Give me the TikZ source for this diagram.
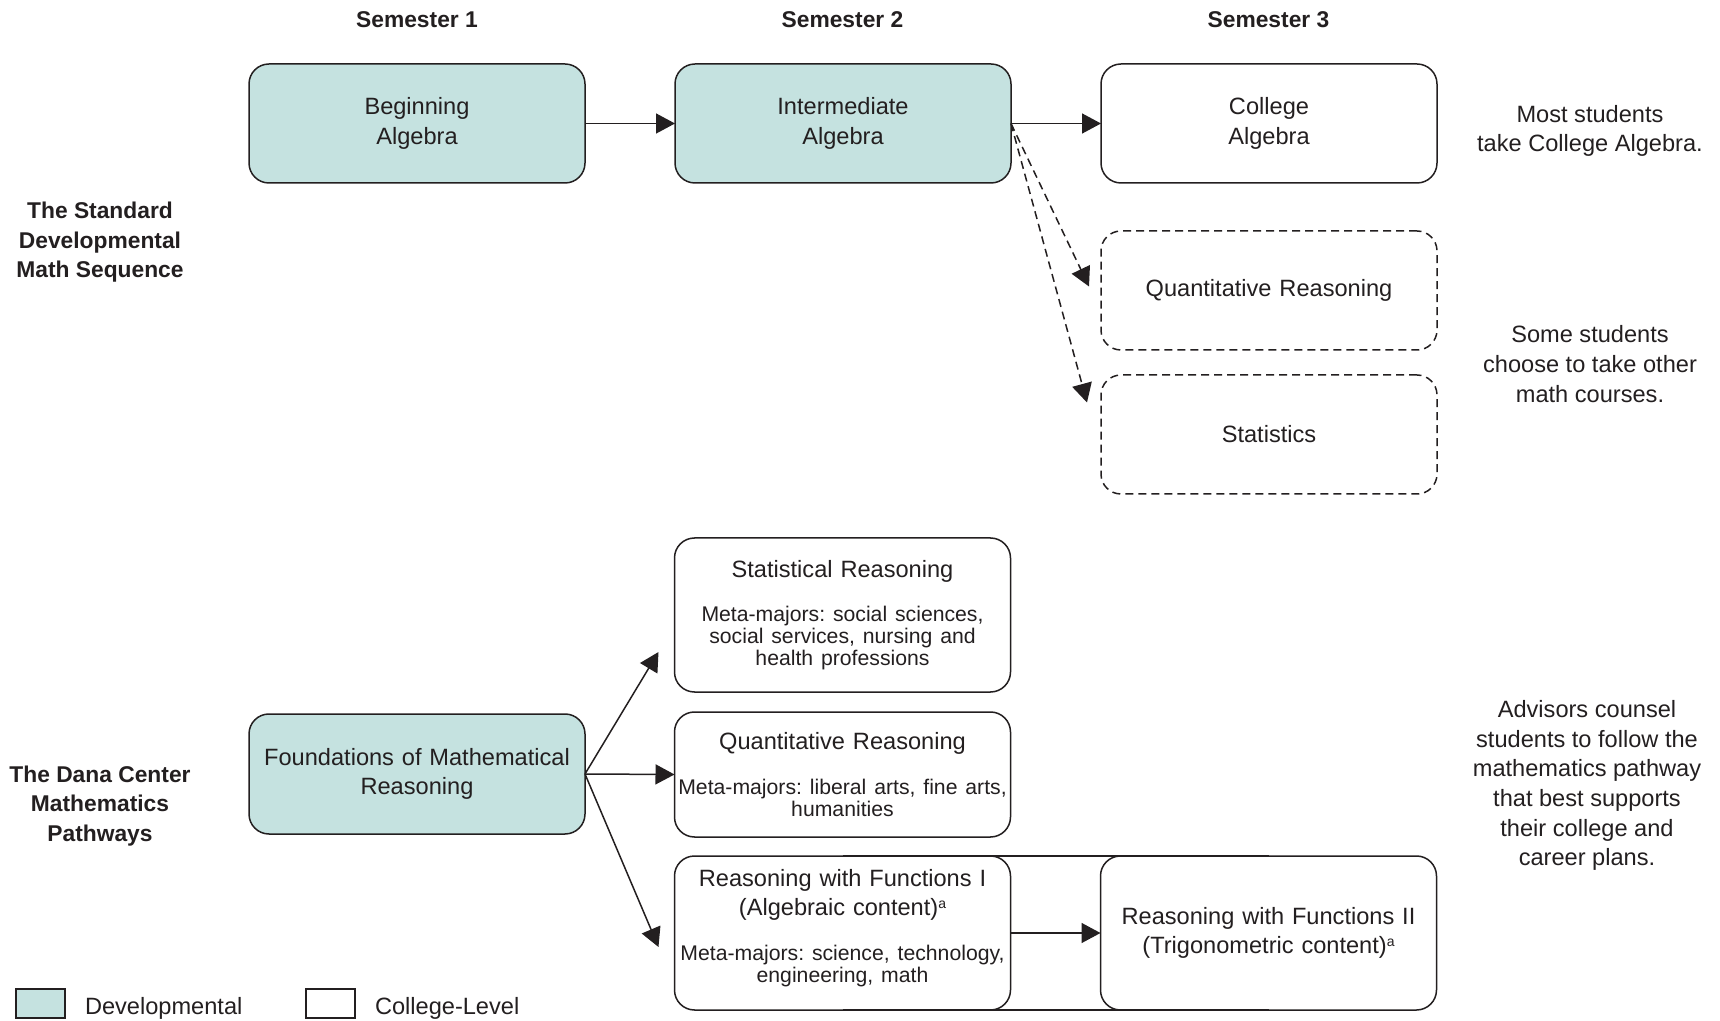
\documentclass[tikz,border=0pt]{standalone}
\usepackage{fontspec}
\setmainfont{Liberation Sans}
\usetikzlibrary{positioning,arrows.meta}
\definecolor{devteal}{RGB}{197,226,224}
\definecolor{inkgray}{RGB}{35,31,32}
\newcommand{\metafont}{\fontsize{10.6}{10.9}\selectfont}
\newcommand{\supa}{{\fontsize{7}{7}\selectfont\raisebox{3.6pt}{a}}}
\frenchspacing

\begin{document}
\begin{tikzpicture}[x=0.5pt, y=-0.5pt, inkgray,
            font=\fontsize{11.8}{14.6}\selectfont,
            devnode/.style={rectangle, rounded corners=10pt, draw=inkgray, fill=devteal, line width=0.75pt, minimum width=168pt, minimum height=59.5pt, text width=168pt, align=center, inner sep=0pt, outer sep=0pt},
            collegenode/.style={devnode, fill=white},
            optnode/.style={collegenode, dash pattern=on 4pt off 2.5pt},
            header/.style={font=\bfseries\fontsize{11.4}{14.6}\selectfont},
            sidelabel/.style={font=\bfseries\fontsize{11.4}{14.8}\selectfont, align=center},
            note/.style={align=center, font=\fontsize{11.8}{14.8}\selectfont},
            keybox/.style={rectangle, draw=inkgray, line width=0.6pt, minimum width=24.5pt, minimum height=14.5pt, inner sep=0pt},
            keylabel/.style={inner sep=0pt, yshift=-2.5pt},
            flow/.style={line width=0.75pt, -{Triangle[length=9.5pt,width=10pt]}},
            maybeflow/.style={flow, dash pattern=on 4pt off 2.5pt},
        ]
        \useasboundingbox (0,0) rectangle (1720,1021);

        % standard sequence
        \node[devnode] (ba) at (417,123.5) {Beginning\\Algebra};
        \node[devnode, right=45pt of ba] (ia) {Intermediate\\Algebra};
        \node[collegenode, right=45pt of ia] (ca) {College\\Algebra};
        \node[optnode, below=24pt of ca] (qrd) {Quantitative Reasoning};
        \node[optnode, below=12.5pt of qrd] (stat) {Statistics};

        \node[header] (sem1) at (417,20) {Semester 1};
        \node[header] (sem2) at (842.5,20) {Semester 2};
        \node[header] (sem3) at (1268.5,20) {Semester 3};

        % pathways
        \node[collegenode, minimum height=77pt] (sr) at (842.5,615) {Statistical Reasoning\par\vspace{11.5pt}{\metafont Meta-majors: social sciences,\\social services, nursing and\\health professions\par}};
        \node[collegenode, minimum height=62.5pt, below=10pt of sr] (qr2) {Quantitative Reasoning\par\vspace{11.5pt}{\metafont Meta-majors: liberal arts, fine arts,\\humanities\par}};
        \node[collegenode, minimum height=77pt, below=9.5pt of qr2] (rwf1) {Reasoning with Functions I\\(Algebraic content)\supa\par\vspace{11.5pt}{\metafont Meta-majors: science, technology,\\engineering, math\par}\vspace{5pt}};
        \node[collegenode, minimum height=77pt, right=45pt of rwf1] (rwf2) {Reasoning with Functions II\\(Trigonometric content)\supa};
        \node[devnode, minimum height=60pt] (found) at (417,774) {Foundations of Mathematical\\Reasoning};

        % side labels and notes
        \node[sidelabel] (stdlabel) at (100,242.5) {The Standard\\Developmental\\Math Sequence};
        \node[sidelabel] (danalabel) at (100,806) {The Dana Center\\Mathematics\\Pathways};
        \node[note] (mostnote) at (1590,131) {Most students\\take College Algebra.};
        \node[note] (somenote) at (1590,364) {Some students\\choose to take other\\math courses.};
        \node[note] (advnote) at (1587,785.5) {Advisors counsel\\students to follow the\\mathematics pathway\\that best supports\\their college and\\career plans.};

        % legend
        \node[keybox, fill=devteal] (keydev) at (40.5,1003.5) {};
        \node[keylabel, right=9.5pt of keydev] (keydevtext) {Developmental};
        \node[keybox, fill=white] (keycol) at (330.5,1003.5) {};
        \node[keylabel, right=9.5pt of keycol] (keycoltext) {College-Level};

        \draw[flow] (ba) -- (ia);
        \draw[flow] (ia) -- (ca);
        \draw[maybeflow] (ia.east) -- ([shift={(-6pt,2pt)}]qrd.west);
        \draw[maybeflow] (ia.east) -- ([shift={(-7pt,16pt)}]stat.west);
        \draw[flow] (found.east) -- ([shift={(-8pt,-18.5pt)}]sr.west);
        \draw[flow] (found.east) -- (qr2.west);
        \draw[flow] (found.east) -- ([shift={(-8pt,-7pt)}]rwf1.west);
        \draw[flow] (rwf1) -- (rwf2);
        \draw[line width=0.75pt] (rwf1.north) -- (rwf2.north);
        \draw[line width=0.75pt] (rwf1.south) -- (rwf2.south);
    \end{tikzpicture}
\end{document}
